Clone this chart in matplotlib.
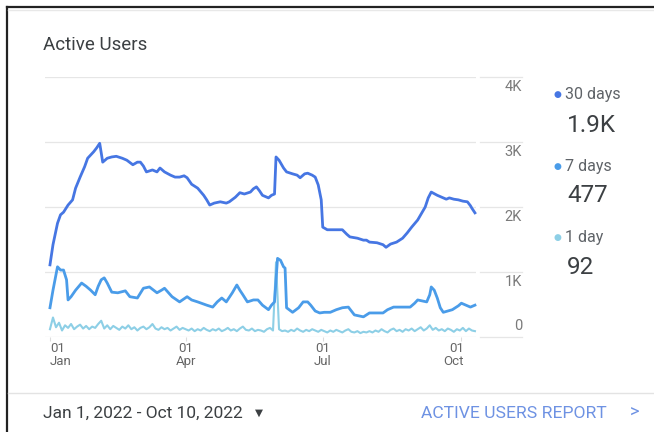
import numpy as np
import matplotlib
matplotlib.use("Agg")
import matplotlib.pyplot as plt
import matplotlib.transforms as mtransforms

plt.rcParams['font.family'] = ['Roboto', 'DejaVu Sans']

# days since Jan 1 2022, values in thousands of users
days_30 = [0, 2, 5, 7, 9, 12, 15, 17, 20, 23, 25, 27, 29, 31, 33, 35, 38, 41, 44, 48,
           51, 55, 58, 60, 62, 64, 68, 71, 73, 76, 80, 83, 86, 89, 91, 94, 98, 102, 104, 106,
           109, 113, 117, 119, 123, 126, 129, 133, 135, 137, 139, 141, 145, 147, 149, 150, 152, 155, 157, 161,
           164, 166, 169, 171, 174, 176, 178, 180, 181, 184, 188, 191, 194, 197, 199, 204, 208, 210, 212, 217,
           221, 223, 226, 230, 234, 237, 240, 244, 247, 249, 251, 253, 257, 260, 263, 265, 268, 271, 274, 277,
           279, 280, 282]
users_30 = [1.11, 1.42, 1.75, 1.88, 1.92, 2.03, 2.11, 2.29, 2.46, 2.62, 2.75, 2.80, 2.85, 2.91, 2.98, 2.69, 2.75, 2.77, 2.78, 2.75,
            2.72, 2.65, 2.69, 2.69, 2.63, 2.54, 2.57, 2.54, 2.60, 2.54, 2.49, 2.46, 2.46, 2.48, 2.45, 2.35, 2.29, 2.18, 2.11, 2.03,
            2.06, 2.08, 2.06, 2.08, 2.15, 2.22, 2.20, 2.23, 2.28, 2.31, 2.25, 2.18, 2.14, 2.18, 2.20, 2.77, 2.72, 2.60, 2.54, 2.51,
            2.49, 2.45, 2.51, 2.52, 2.49, 2.46, 2.34, 2.11, 1.69, 1.65, 1.65, 1.65, 1.65, 1.58, 1.54, 1.52, 1.49, 1.49, 1.46, 1.45,
            1.42, 1.38, 1.43, 1.46, 1.52, 1.60, 1.69, 1.80, 1.92, 2.00, 2.14, 2.23, 2.18, 2.15, 2.12, 2.14, 2.12, 2.11, 2.09, 2.08,
            2.02, 1.98, 1.91]

days_7 = [0, 2, 5, 7, 9, 11, 12, 14, 17, 21, 24, 27, 30, 32, 34, 36, 38, 41, 45, 50,
          53, 58, 62, 66, 71, 74, 76, 81, 86, 91, 94, 98, 104, 108, 111, 114, 117, 121, 124, 126,
          128, 131, 135, 138, 141, 145, 147, 149, 151, 153, 155, 156, 157, 161, 165, 168, 171, 173, 176, 179,
          182, 186, 190, 194, 198, 200, 202, 208, 212, 217, 221, 224, 228, 232, 239, 242, 244, 248, 250, 252,
          253, 255, 257, 259, 261, 264, 267, 271, 273, 276, 279, 282]
users_7 = [0.45, 0.72, 1.08, 1.03, 1.03, 0.88, 0.57, 0.62, 0.72, 0.83, 0.78, 0.72, 0.65, 0.78, 0.88, 0.91, 0.83, 0.69, 0.68, 0.71,
           0.62, 0.60, 0.75, 0.77, 0.68, 0.72, 0.75, 0.62, 0.54, 0.62, 0.57, 0.54, 0.49, 0.46, 0.54, 0.60, 0.54, 0.68, 0.80, 0.72,
           0.65, 0.54, 0.57, 0.57, 0.49, 0.42, 0.49, 0.54, 1.21, 1.18, 1.08, 1.06, 0.45, 0.38, 0.45, 0.54, 0.54, 0.49, 0.40, 0.37,
           0.38, 0.38, 0.42, 0.45, 0.46, 0.40, 0.34, 0.31, 0.37, 0.37, 0.37, 0.42, 0.46, 0.46, 0.46, 0.52, 0.57, 0.55, 0.54, 0.65,
           0.77, 0.72, 0.60, 0.45, 0.38, 0.40, 0.42, 0.48, 0.52, 0.49, 0.46, 0.49]

# 1 day: every second day from Jan 1
users_1 = [0.12, 0.30, 0.15, 0.22, 0.10, 0.18, 0.14, 0.20, 0.12, 0.16, 0.19, 0.13, 0.17, 0.12, 0.16, 0.14,
           0.20, 0.25, 0.13, 0.18, 0.12, 0.17, 0.14, 0.11, 0.16, 0.13, 0.18, 0.12, 0.15, 0.10, 0.14,
           0.16, 0.12, 0.15, 0.20, 0.13, 0.11, 0.15, 0.12, 0.14, 0.10, 0.13, 0.16, 0.11, 0.14, 0.12,
           0.10, 0.13, 0.09, 0.12, 0.10, 0.14, 0.11, 0.09, 0.12, 0.10, 0.13, 0.09, 0.11, 0.14, 0.10,
           0.12, 0.09, 0.13, 0.16, 0.11, 0.10, 0.13, 0.09, 0.11, 0.10, 0.08, 0.12, 0.14, 0.10,
           1.15,
           0.12, 0.09, 0.10, 0.08, 0.11, 0.09, 0.13, 0.10, 0.08, 0.11, 0.09, 0.12, 0.10, 0.08, 0.11,
           0.09, 0.07, 0.10, 0.08, 0.11, 0.09, 0.07, 0.10, 0.12, 0.08, 0.07, 0.09, 0.06, 0.08, 0.07,
           0.09, 0.07, 0.10, 0.08, 0.12, 0.09, 0.07, 0.11, 0.13, 0.09, 0.11, 0.08, 0.12, 0.10, 0.13,
           0.09, 0.12, 0.15, 0.10, 0.13, 0.18, 0.11, 0.14, 0.10, 0.12, 0.09, 0.13, 0.11, 0.08, 0.12,
           0.10, 0.14, 0.09, 0.13, 0.10, 0.09]
days_1 = np.arange(0, 2 * len(users_1), 2)

y_ticks = [0, 1, 2, 3, 4]
y_labels = ['0', '1K', '2K', '3K', '4K']
x_ticks = [0, 90, 181, 273]
x_labels = ['01\nJan', '01\nApr', '01\nJul', '01\nOct']

series_names = ['30 days', '7 days', '1 day']
series_totals = ['1.9K', '477', '92']
colors = ['#4676e3', '#4a9ce9', '#8dcfe6']

W, H = 654, 432
fig = plt.figure(figsize=(W / 100, H / 100), dpi=100)


def fx(px):
    return px / W


def fy(py):
    return 1 - py / H


ax = fig.add_axes([fx(45), fy(337), fx(476) - fx(45), fy(77) - fy(337)])
ax.set_xlim(-3.3, 282.7)
ax.set_ylim(0, 4)

for yv in y_ticks:
    ax.axhline(yv, color='#e6e6e6', lw=0.9, zorder=0)

ax.plot(days_1, users_1, color=colors[2], lw=1.5, clip_on=False, zorder=2)
ax.plot(days_7, users_7, color=colors[1], lw=2.0, clip_on=False, zorder=3)
ax.plot(days_30, users_30, color=colors[0], lw=2.0, clip_on=False, zorder=4)

for s in ax.spines.values():
    s.set_visible(False)
ax.set_yticks([])
ax.set_xticks(x_ticks)
ax.set_xticklabels([])
ax.tick_params(axis='x', length=3, color='#dddddd', direction='out')

# x labels
aligns = ['left', 'center', 'center', 'right']
offs = [0, 0, 0, 1.5]
for xv, lab, ha, o in zip(x_ticks, x_labels, aligns, offs):
    ax.text(xv + o, -0.08, lab, ha=ha, va='top', fontsize=9.5, color='#666666',
            linespacing=0.95, transform=ax.transData)

# right y labels and grid stubs
tr = mtransforms.blended_transform_factory(ax.transAxes, ax.transData)
for yv, lab in zip(y_ticks, y_labels):
    ax.plot([1.009, 1.107], [yv, yv], color='#e6e6e6', lw=0.9, transform=tr, clip_on=False)
    if yv == 0:
        ax.text(1.107, yv + 0.06, lab, ha='right', va='bottom', fontsize=10.5, color='#7a7a7a', transform=tr)
    else:
        ax.text(1.107, yv - 0.05, lab, ha='right', va='top', fontsize=10.5, color='#7a7a7a', transform=tr)

# title
fig.text(fx(43), fy(45), 'Active Users', fontsize=13.5, color='#3c4043', va='center')

# legend
for i, (name, total, c) in enumerate(zip(series_names, series_totals, colors)):
    y0 = 95 + i * 71
    fig.text(fx(553), fy(y0), '●', fontsize=6.5, color=c, va='center', ha='left')
    fig.text(fx(565), fy(y0), name, fontsize=11.5, color='#5f6368', va='center')
    fig.text(fx(567), fy(y0 + 30), total, fontsize=17.5, color='#3c4043', va='center')

# card border and footer
fig.add_artist(plt.Line2D([fx(7), fx(654)], [fy(7), fy(7)], color='#222222', lw=1.6))
fig.add_artist(plt.Line2D([fx(7), fx(7)], [fy(7), fy(432)], color='#222222', lw=1.6))
fig.add_artist(plt.Line2D([fx(8), fx(654)], [fy(9.5), fy(9.5)], color='#e8e8e8', lw=1))
fig.add_artist(plt.Line2D([fx(8), fx(654)], [fy(393), fy(393)], color='#e3e3e3', lw=1))

fig.text(fx(43), fy(413), 'Jan 1, 2022 - Oct 10, 2022', fontsize=12.5, color='#3c4043', va='center')
fig.text(fx(255), fy(413), '▼', fontsize=7.5, color='#3c4043', va='center')
fig.text(fx(421), fy(413), 'ACTIVE USERS REPORT', fontsize=12.6, color='#6e92e3', va='center')
fig.text(fx(630), fy(413), '>', fontsize=13, color='#6e92e3', va='center')

fig.savefig('out.png', dpi=100)
